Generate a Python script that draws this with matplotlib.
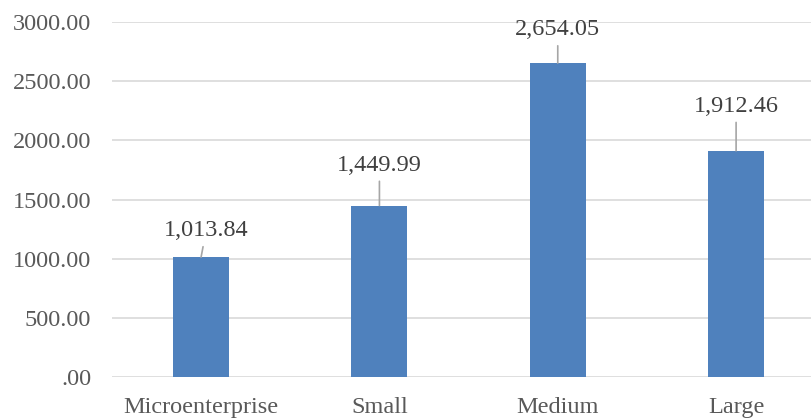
import matplotlib.pyplot as plt
from matplotlib.ticker import FuncFormatter

plt.rcParams['font.family'] = ['Liberation Serif', 'DejaVu Serif']

categories = ['Microenterprise', 'Small', 'Medium', 'Large']
values = [1013.84, 1449.99, 2654.05, 1912.46]
yticks = [0, 500, 1000, 1500, 2000, 2500, 3000]

# label offsets from bar tops, in points
label_offsets = [(3.6, 19), (0, 29), (0, 24), (0, 32)]

fig = plt.figure(figsize=(8.11, 4.18), dpi=100)
ax = fig.add_axes([0.138, 0.098, 0.862, 0.849])

x = range(len(categories))
ax.bar(x, values, width=0.314, color='#4F81BD', zorder=3)

for xi, v, off in zip(x, values, label_offsets):
    ax.annotate(f'{v:,.2f}', xy=(xi, v), xytext=off, textcoords='offset points',
                ha='center', va='center', fontsize=17.5, color='#404040',
                arrowprops=dict(arrowstyle='-', color='#A6A6A6', lw=1.2,
                                shrinkA=2, shrinkB=0))

ax.set_xlim(-0.5, 3.42)
ax.set_ylim(0, 3000)
ax.set_yticks(yticks)
ax.yaxis.set_major_formatter(FuncFormatter(lambda v, p: '.00' if v == 0 else f'{v:.2f}'))
ax.set_xticks(list(x))
ax.set_xticklabels(categories)

ax.grid(axis='y', color='#D9D9D9', lw=1.2, zorder=0)
for s in ax.spines.values():
    s.set_visible(False)
ax.tick_params(axis='both', length=0, labelsize=17.5, labelcolor='#595959')
ax.tick_params(axis='y', pad=15)
ax.tick_params(axis='x', pad=14.5)

fig.savefig('out.png', dpi=100)
